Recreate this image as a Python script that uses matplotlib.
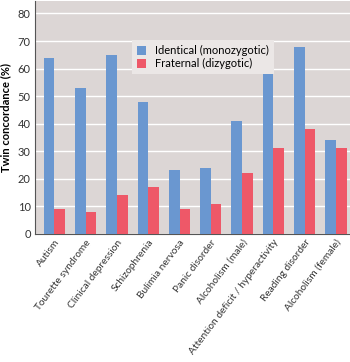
import numpy as np
import matplotlib
matplotlib.use("Agg")
import matplotlib.pyplot as plt

plt.rcParams['font.family'] = ['Lato', 'DejaVu Sans']

# ===== DATA =====
disorders = ["Autism", "Tourette syndrome", "Clinical depression", "Schizophrenia",
             "Bulimia nervosa", "Panic disorder", "Alcoholism (male)",
             "Attention deficit / hyperactivity", "Reading disorder",
             "Alcoholism (female)"]
identical = [64, 53, 65, 48, 23, 24, 41, 58, 68, 34]
fraternal = [9, 8, 14, 17, 9, 11, 22, 31, 38, 31]
yticks = [0, 10, 20, 30, 40, 50, 60, 70, 80]

blue = "#6a97d0"
red = "#ee5868"
bg = "#dcd6d5"

fig = plt.figure(figsize=(3.5, 3.62), dpi=100)
ax = fig.add_axes([0.1, 0.354, 0.9, 0.643])
ax.set_facecolor(bg)

x = np.arange(len(disorders))
w = 0.34
ax.bar(x - w / 2, identical, w, color=blue, label="Identical (monozygotic)", zorder=3)
ax.bar(x + w / 2, fraternal, w, color=red, label="Fraternal (dizygotic)", zorder=3)

ax.set_xlim(-0.62, 9.45)
ax.set_ylim(0, 84.5)
ax.set_yticks(yticks)
ax.yaxis.grid(True, color="white", linewidth=1.0, zorder=0)
ax.tick_params(axis='y', length=0, labelsize=8, colors="#333333", pad=3)
ax.tick_params(axis='x', length=0, labelsize=7.3, colors="#333333", pad=3)
ax.set_xticks(x)
ax.set_xticklabels(disorders, rotation=53, ha='right', rotation_mode='anchor')

for s in ['top', 'right']:
    ax.spines[s].set_visible(False)
ax.spines['left'].set_color("#555555")
ax.spines['bottom'].set_color("#555555")
ax.spines['left'].set_linewidth(0.8)
ax.spines['bottom'].set_linewidth(0.8)

ax.set_ylabel("Twin concordance (%)", fontsize=8, fontweight='bold', labelpad=5)

leg = ax.legend(loc='upper left', bbox_to_anchor=(0.29, 0.855), fontsize=8,
                frameon=True, fancybox=False, handlelength=0.8, handleheight=0.8,
                handletextpad=0.8, borderpad=0.45, labelspacing=0.15)
leg.get_frame().set_facecolor("#ebe7e6")
leg.get_frame().set_edgecolor("none")
leg.get_frame().set_alpha(1)

fig.savefig("out.png", dpi=100)
